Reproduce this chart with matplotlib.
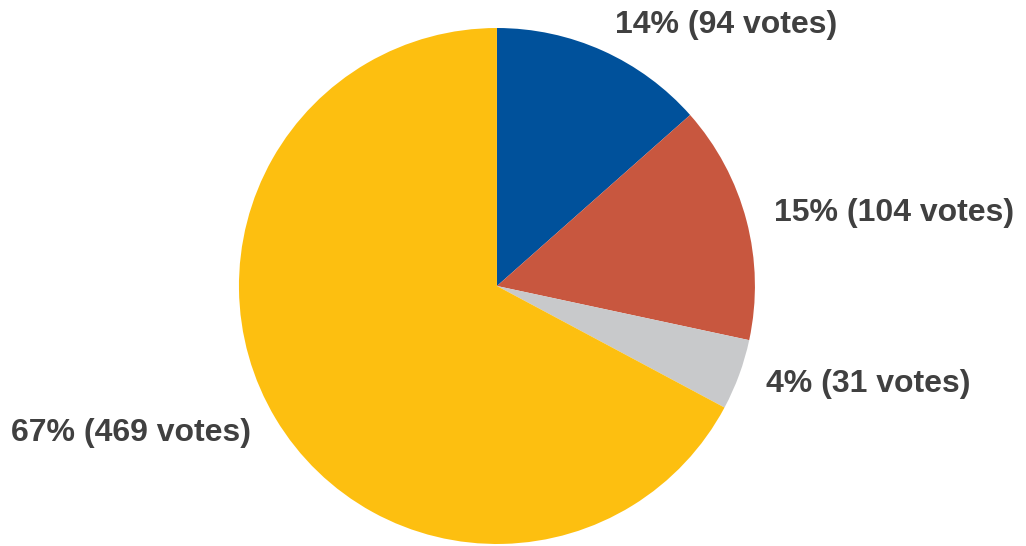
"""
Pie chart of vote shares
"""

import numpy as np
import matplotlib.pyplot as plt

votes = [94, 104, 31, 469]
percent_labels = ['14%', '15%', '4%', '67%']
colors = ['#00519B', '#C8573F', '#C8C9CB', '#FDBF10']

fig = plt.figure(figsize=(10.26, 5.46), dpi=100)
ax = fig.add_axes([0.2329, 0.0037, 0.5029, 0.945])

wedges, _ = ax.pie(votes, colors=colors, startangle=90, counterclock=False,
                   radius=1, wedgeprops={'linewidth': 0})
ax.set_xlim(-1, 1)
ax.set_ylim(-1, 1)
ax.set_aspect('equal')

# Labels just outside each wedge, along its middle angle
for w, v, p in zip(wedges, votes, percent_labels):
    mid = np.deg2rad((w.theta1 + w.theta2) / 2)
    x, y = 1.11 * np.cos(mid), 1.11 * np.sin(mid)
    ha = 'left' if x > 0 else 'right'
    ax.text(x, y, f'{p} ({v} votes)', ha=ha, va='center',
            fontsize=23, fontweight='bold', color='#404040',
            family=['Liberation Sans', 'DejaVu Sans'], clip_on=False)

plt.savefig('out.png', dpi=100)
plt.close()
